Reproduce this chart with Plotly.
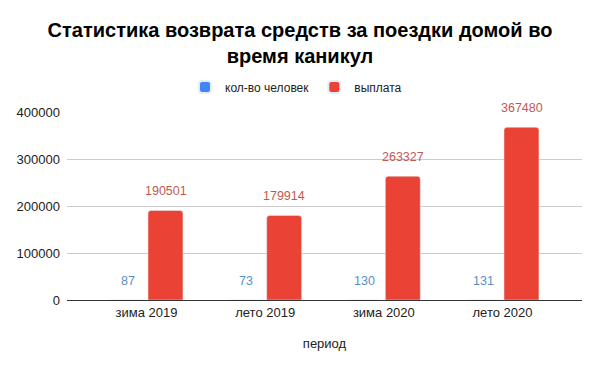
import plotly.graph_objects as go

categories = ["зима 2019", "лето 2019", "зима 2020", "лето 2020"]
people = [87, 73, 130, 131]
payments = [190501, 179914, 263327, 367480]
y_ticks = [0, 100000, 200000, 300000, 400000]

BLUE = "#4285F4"
RED = "#EA4335"
BLUE_LABEL = "#5b8fc4"
RED_LABEL = "#bf5a52"
FONT = "Liberation Sans, Arial, sans-serif"

# page body has an 8px margin, so the figure is drawn 8px smaller
W, H = 592, 363

fig = go.Figure()
fig.add_trace(go.Bar(name="кол-во человек", x=categories, y=people,
                     marker=dict(color=BLUE, cornerradius=3)))
fig.add_trace(go.Bar(name="выплата", x=categories, y=payments,
                     marker=dict(color=RED, cornerradius=3)))

annotations = []
for cat, v in zip(categories, people):
    annotations.append(dict(x=cat, y=v, xref="x", yref="y", text=str(v), showarrow=False,
                            xshift=-19, yshift=19, yanchor="middle",
                            font=dict(family=FONT, size=12.5, color=BLUE_LABEL)))
for cat, v in zip(categories, payments):
    annotations.append(dict(x=cat, y=v, xref="x", yref="y", text=str(v), showarrow=False,
                            xshift=19, yshift=19, yanchor="middle",
                            font=dict(family=FONT, size=12.5, color=RED_LABEL)))

fig.update_layout(
    width=W, height=H,
    margin=dict(l=59, r=18, t=104, b=71, autoexpand=False),
    paper_bgcolor="white", plot_bgcolor="white",
    font=dict(family=FONT, size=13, color="#222222"),
    title=dict(text="<b>Статистика возврата средств за поездки домой во<br>время каникул</b>",
               x=292 / W, xanchor="center", xref="container",
               y=1 - 29 / H, yanchor="middle", yref="container",
               font=dict(family=FONT, size=20, color="#000000")),
    legend=dict(orientation="h", x=288 / W, xanchor="center", xref="container",
                y=1 - 79 / H, yanchor="middle", yref="container",
                font=dict(family=FONT, size=12, color="#222222"),
                itemsizing="constant"),
    barmode="group", bargap=0.36, bargroupgap=0.08,
    annotations=annotations,
    showlegend=True,
)
fig.update_xaxes(type="category", range=[-0.67, 3.67], showgrid=False,
                 showline=True, linecolor="#333333", linewidth=1,
                 ticks="", ticklabelstandoff=0, automargin=False,
                 tickfont=dict(family=FONT, size=13, color="#222222"),
                 title=dict(text="период", standoff=20,
                            font=dict(family=FONT, size=13, color="#222222")))
fig.update_yaxes(range=[0, 400000], tickvals=y_ticks, ticktext=[str(t) for t in y_ticks],
                 showgrid=True, gridcolor="#cccccc", gridwidth=1, zeroline=False,
                 ticks="", ticklabelstandoff=6, automargin=False,
                 tickfont=dict(family=FONT, size=13, color="#222222"))

fig.write_html("out.html")
